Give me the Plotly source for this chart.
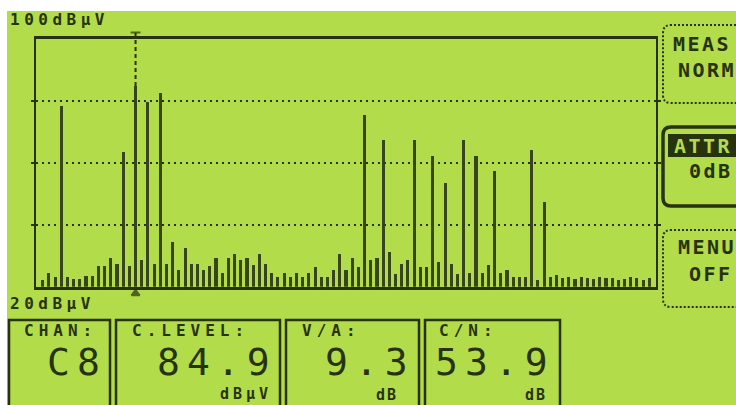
import plotly.graph_objects as go

# ---- spectrum data (dBµV per analyser bin) ----
bin_levels = [
    22.2, 24.3, 23.2, 78.4, 23.2, 22.4, 22.4, 23.5, 23.5, 26.5,
    26.5, 29.1, 27.3, 63.6, 26.5, 84.9, 28.4, 79.5, 27.3, 82.5,
    27.3, 34.5, 25.4, 32.3, 27.3, 27.3, 25.4, 26.5, 29.1, 24.3,
    29.1, 30.6, 28.4, 29.1, 26.9, 30.6, 27.3, 24.3, 23.0, 24.3,
    23.0, 24.3, 23.0, 24.3, 26.3, 23.0, 23.0, 25.2, 30.4, 25.4,
    29.1, 26.3, 75.5, 28.4, 29.1, 67.4, 31.2, 24.1, 27.1, 28.4,
    67.4, 26.3, 26.3, 62.2, 28.0, 53.4, 27.1, 24.0, 67.4, 24.3,
    62.2, 24.3, 27.0, 57.2, 24.3, 25.2, 23.0, 23.0, 23.0, 64.1,
    22.2, 47.4, 23.0, 23.8, 22.6, 23.0, 22.4, 23.0, 22.8, 22.4,
    23.0, 22.6, 22.8, 22.2, 22.4, 23.0, 22.6, 22.2, 22.8,
]
bins = list(range(len(bin_levels)))

chan_bin = 15            # bin of the measured channel
chan_name = "C8"
va_ratio = 9.3           # dB
cn_ratio = 53.9          # dB
ref_top = 100            # dBµV
ref_bottom = 20          # dBµV
grid_levels = [40, 60, 80]

softkeys = [("MEAS", "NORM"), ("ATTR", "0dB"), ("MENU", "OFF")]

# ---- styling ----
W, H = 736, 405
LCD = "#b3dc4b"
INK = "#27320f"
BAR = "#36461a"
FONT = "DejaVu Sans Mono"


def px(x):
    return x / W


def py(y):
    return 1 - y / H


# plot frame in pixels
FX0, FX1 = 36, 656
FY0, FY1 = 39.3, 286.7
db_per_px = (ref_top - ref_bottom) / (FY1 - FY0)

fig = go.Figure()

fig.add_trace(go.Bar(
    x=bins, y=bin_levels, width=0.5,
    marker=dict(color=BAR, line=dict(width=0)),
    xaxis="x", yaxis="y", hoverinfo="x+y",
))

# channel marker: dashed line from above the frame down to the channel peak
m_top = ref_top + (FY0 - 32.5) * db_per_px
m_bot = ref_bottom - (293.5 - FY1) * db_per_px
fig.add_trace(go.Scatter(
    x=[chan_bin, chan_bin], y=[bin_levels[chan_bin], m_top],
    mode="lines", line=dict(color=INK, width=2, dash="4px,3px"),
    xaxis="x2", yaxis="y2", hoverinfo="skip",
))
fig.add_trace(go.Scatter(
    x=[chan_bin, chan_bin], y=[m_top, m_bot],
    mode="markers",
    marker=dict(symbol=["line-ew", "triangle-up"], size=[7, 7], color=INK,
                line=dict(color=INK, width=2)),
    xaxis="x2", yaxis="y2", hoverinfo="skip", cliponaxis=False,
))

xr = [(FX0 - 42.7) / 6.19, (FX1 - 42.7) / 6.19]
y2_lo, y2_hi = 30, 297
y2_range = [ref_bottom - (y2_hi - FY1) * db_per_px, ref_top + (FY0 - y2_lo) * db_per_px]

shapes = []
annotations = []


def rrect(x0, y0, x1, y1, r, **line):
    path = (f"M {px(x1)},{py(y0)} L {px(x0 + r)},{py(y0)} "
            f"Q {px(x0)},{py(y0)} {px(x0)},{py(y0 + r)} "
            f"L {px(x0)},{py(y1 - r)} Q {px(x0)},{py(y1)} {px(x0 + r)},{py(y1)} "
            f"L {px(x1)},{py(y1)}")
    shapes.append(dict(type="path", path=path, xref="paper", yref="paper",
                       line=line, layer="above"))


def box(x0, y0, x1, y1, width=2.5, fill=None):
    shapes.append(dict(type="rect", x0=px(x0), x1=px(x1), y0=py(y0), y1=py(y1),
                       xref="paper", yref="paper",
                       line=dict(color=INK, width=width if fill is None else 0),
                       fillcolor=fill or "rgba(0,0,0,0)", layer="above"))


def label(text, x, y, size, anchor="left", color=INK, ls=0, bold=False):
    if ls:
        text = f'<span style="letter-spacing:{ls}px">{text}</span>'
    if bold:
        text = f"<b>{text}</b>"
    annotations.append(dict(text=text, x=px(x), y=py(y), xref="paper", yref="paper",
                            xanchor=anchor, yanchor="middle", showarrow=False,
                            font=dict(family=FONT, size=size, color=color)))


# LCD panel background
shapes.append(dict(type="rect", x0=px(7), x1=1.0, y0=0, y1=py(11),
                   xref="paper", yref="paper", line=dict(width=0),
                   fillcolor=LCD, layer="below"))

# reference level labels
label(f"{ref_top}dBµV", 8, 19, 16, ls=4.5, bold=True)
label(f"{ref_bottom}dBµV", 8, 303, 16, ls=4.5, bold=True)

# soft-key panels on the right
rrect(663, 25, 760, 103, 8, color=INK, width=2, dash="2px,2px")
label(softkeys[0][0], 671, 44, 20, ls=2.5, bold=True)
label(softkeys[0][1], 676, 70, 20, ls=2.5, bold=True)

rrect(663, 127, 760, 206, 8, color=INK, width=3.5)
box(668, 134, 760, 157, fill=INK)
label(softkeys[1][0], 672, 146, 20, color=LCD, ls=2.5, bold=True)
label(softkeys[1][1], 687, 171, 20, ls=2.5, bold=True)

rrect(663, 230, 760, 307, 8, color=INK, width=2, dash="2px,2px")
label(softkeys[2][0], 676, 247, 20, ls=2.5, bold=True)
label(softkeys[2][1], 687, 274, 20, ls=2.5, bold=True)

# readout boxes along the bottom
for x0, x1 in [(9, 110), (116, 280), (286, 419), (425, 560)]:
    box(x0, 320, x1, 412)

label("CHAN:", 22, 330, 16, ls=5, bold=True)
label(chan_name, 109, 362, 38, anchor="right", ls=7)

label("C.LEVEL:", 130, 330, 16, ls=5, bold=True)
label(f"{bin_levels[chan_bin]:.1f}", 279, 362, 38, anchor="right", ls=7)
label("dBµV", 274, 394, 15, anchor="right", ls=4, bold=True)

label("V/A:", 300, 330, 16, ls=5, bold=True)
label(f"{va_ratio:.1f}", 417, 362, 38, anchor="right", ls=7)
label("dB", 400, 395, 15, anchor="right", ls=2, bold=True)

label("C/N:", 437, 330, 16, ls=5, bold=True)
label(f"{cn_ratio:.1f}", 557, 362, 38, anchor="right", ls=7)
label("dB", 549, 395, 15, anchor="right", ls=2, bold=True)

fig.update_layout(
    width=W, height=H,
    margin=dict(l=0, r=0, t=0, b=0),
    paper_bgcolor="white", plot_bgcolor="rgba(0,0,0,0)",
    showlegend=False, bargap=0,
    shapes=shapes, annotations=annotations,
    xaxis=dict(domain=[px(FX0), px(FX1)], range=xr, showgrid=False, zeroline=False,
               showline=True, mirror=True, linecolor=INK, linewidth=3,
               showticklabels=False, ticks="", fixedrange=True, anchor="y"),
    yaxis=dict(domain=[py(FY1), py(FY0)], range=[ref_bottom, ref_top],
               tickvals=grid_levels, showgrid=True, gridcolor=INK, gridwidth=2,
               griddash="2px,4px", zeroline=False, showline=True, mirror="ticks",
               linecolor=INK, linewidth=2, ticks="outside", ticklen=3, tickwidth=2,
               tickcolor=INK, showticklabels=False, fixedrange=True, anchor="x"),
    xaxis2=dict(domain=[px(FX0), px(FX1)], range=xr, visible=False,
                fixedrange=True, anchor="y2"),
    yaxis2=dict(domain=[py(y2_hi), py(y2_lo)], range=y2_range, visible=False,
                fixedrange=True, anchor="x2"),
)

fig.write_html("out.html")
